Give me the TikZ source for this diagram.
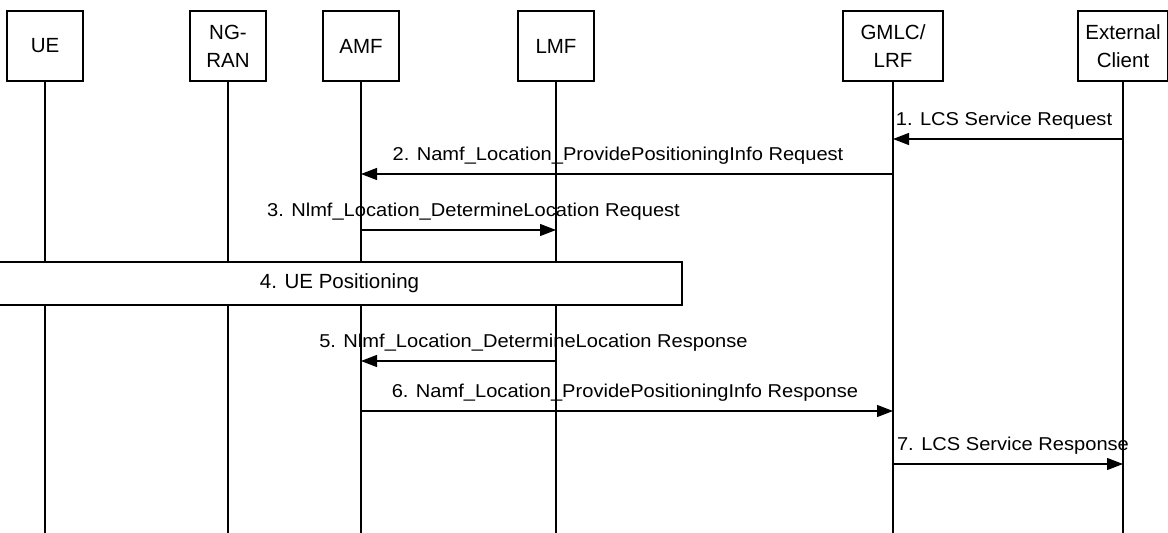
\documentclass[tikz,border=0pt]{standalone}
\usepackage{fontspec}
\setmainfont{Liberation Sans}
\newfontfamily\msgfont{Liberation Sans}[FakeStretch=1.08]
\usetikzlibrary{arrows.meta}
\tikzstyle{entity}=[draw, fill=white, line width=1.1pt, minimum width=76pt, minimum height=70pt, align=center, inner sep=0pt, font=\fontsize{20.5pt}{28pt}\selectfont]
\tikzstyle{lifeline}=[line width=1.1pt]
\tikzstyle{msg}=[line width=1.1pt, -{Triangle[length=16pt,width=12pt]}]
\tikzstyle{msglabel}=[anchor=base, inner sep=0pt, font=\msgfont\fontsize{18.6pt}{24pt}\selectfont]
\newcommand{\newentity}[4][76]{% Syntax: [box width] {name} {x of lifeline} {text}
\node[entity, minimum width=#1pt] (#2) at (#3,46) {#4};
\coordinate (#2end) at (#3,533);
\draw[lifeline] (#2) -- (#2end);
}
\newcommand{\newmsg}[5][0]{% Syntax: [label shift] {from} {to} {y} {text}
\coordinate (#2-#4) at (#2 |- 0,#4);
\coordinate (#3-#4) at (#3 |- 0,#4);
\draw[msg] (#2-#4) -- (#3-#4) node[msglabel, midway, yshift=14pt, xshift=#1pt] {#5};
}
\begin{document}
\begin{tikzpicture}[x=1pt, y=-1pt]
  \useasboundingbox (0,0) rectangle (1168,533);
  \newentity{ue}{45}{UE}
  \newentity{ran}{228}{NG-\\RAN}
  \newentity{amf}{361}{AMF}
  \newentity{lmf}{556}{LMF}
  \newentity[100]{gmlc}{893}{GMLC/\\LRF}
  \newentity[90]{client}{1123}{External\\Client}
  %\draw[red] (0,0) grid[step=50] (1168,533); % use this to debug
  \newmsg[-4]{client}{gmlc}{139}{1. LCS Service Request}
  \newmsg[-9]{gmlc}{amf}{174}{2. Namf\_Location\_ProvidePositioningInfo Request}
  \newmsg[15]{amf}{lmf}{230}{3. Nlmf\_Location\_DetermineLocation Request}
  \node[entity, minimum width=685pt, minimum height=43pt] (uepos) at (339.5,283.5) {4. UE Positioning};
  \newmsg[75]{lmf}{amf}{361}{5. Nlmf\_Location\_DetermineLocation Response}
  \newmsg[-2]{amf}{gmlc}{411}{6. Namf\_Location\_ProvidePositioningInfo Response}
  \newmsg[5]{gmlc}{client}{464}{7. LCS Service Response}
\end{tikzpicture}
\end{document}
